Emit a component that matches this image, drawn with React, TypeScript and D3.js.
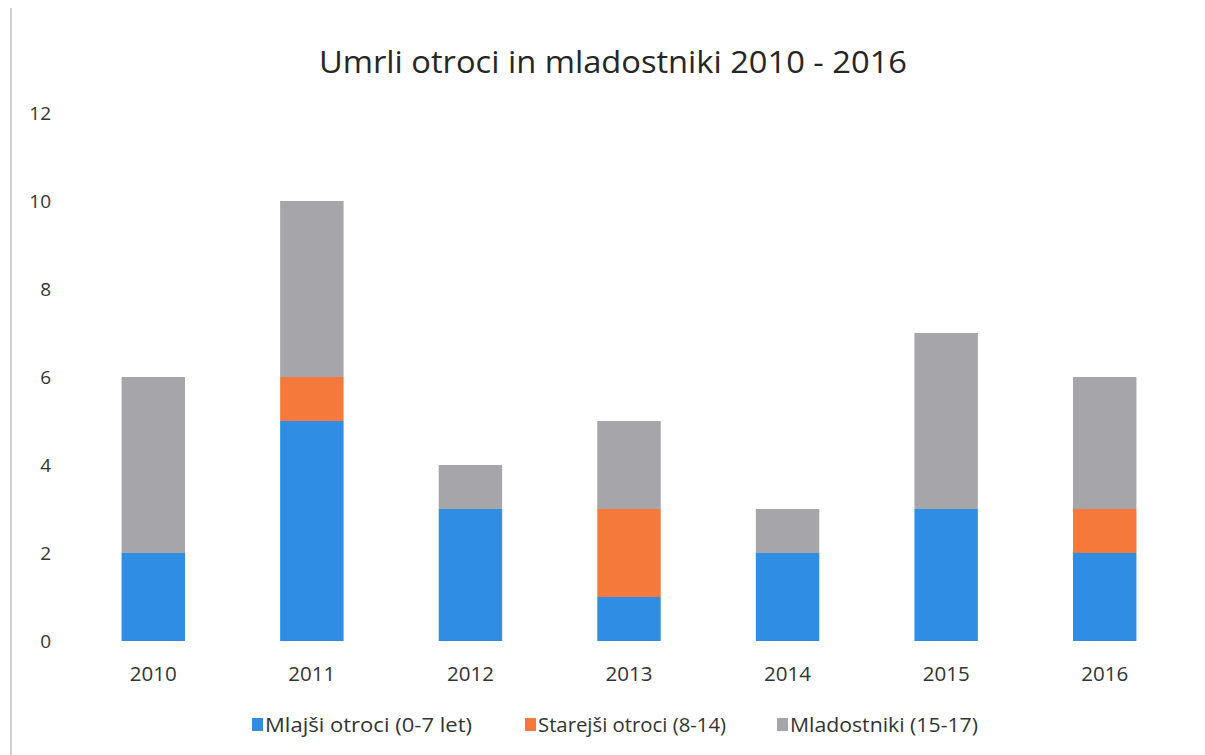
import React from "react";
import * as d3 from "d3";

const years = ["2010", "2011", "2012", "2013", "2014", "2015", "2016"];
const mlajsi = [2, 5, 3, 1, 2, 3, 2];
const starejsi = [0, 1, 0, 2, 0, 0, 1];
const mladostniki = [4, 4, 1, 2, 1, 4, 3];
const seriesNames = ["Mlajši otroci (0-7 let)", "Starejši otroci (8-14)", "Mladostniki (15-17)"];
const seriesColors = ["#2f8de4", "#f4793b", "#a6a6aa"];
const yTicks = [0, 2, 4, 6, 8, 10, 12];
const title = "Umrli otroci in mladostniki 2010 - 2016";

const W = 1205;
const H = 755;
const FONT = "'Open Sans', 'Noto Sans', sans-serif";

export default function App() {
  const x = d3.scaleBand<string>().domain(years).range([74, 1184]).paddingInner(0.6).paddingOuter(0.3);
  const y = d3.scaleLinear().domain([0, 12]).range([641, 113]);

  const rows = years.map((yr, i) => ({ year: yr, s0: mlajsi[i], s1: starejsi[i], s2: mladostniki[i] }));
  const stack = d3.stack<any>().keys(["s0", "s1", "s2"]);
  const layers = stack(rows);

  const legendX = [252, 525, 777];
  const legendW = [207, 188, 188];

  return (
    <div style={{ position: "absolute", left: 0, top: 0 }}>
      <svg width={W} height={H} style={{ display: "block", background: "#fff" }}>
        <line x1={11} x2={11} y1={8} y2={H} stroke="#d0d0d0" strokeWidth={2} />
        <text
          x={613}
          y={73}
          textAnchor="middle"
          fontFamily={FONT}
          fontSize={31}
          fill="#262626"
          textLength={588}
          lengthAdjust="spacingAndGlyphs"
        >
          {title}
        </text>
        {yTicks.map((t) => (
          <text key={t} x={51} y={y(t) + 7} textAnchor="end" fontFamily={FONT} fontSize={19} fill="#333">
            {t}
          </text>
        ))}
        {layers.map((layer, li) => (
          <g key={li} fill={seriesColors[li]}>
            {layer.map((d, i) =>
              d[1] - d[0] > 0 ? (
                <rect
                  key={i}
                  x={x(years[i])}
                  y={y(d[1])}
                  width={x.bandwidth()}
                  height={y(d[0]) - y(d[1])}
                />
              ) : null
            )}
          </g>
        ))}
        {years.map((yr) => (
          <text
            key={yr}
            x={(x(yr) as number) + x.bandwidth() / 2}
            y={681}
            textAnchor="middle"
            fontFamily={FONT}
            fontSize={20}
            fill="#333"
            textLength={47}
            lengthAdjust="spacingAndGlyphs"
          >
            {yr}
          </text>
        ))}
        {seriesNames.map((n, i) => (
          <g key={n}>
            <rect x={legendX[i]} y={718} width={11} height={13} fill={seriesColors[i]} />
            <text
              x={legendX[i] + 13}
              y={732}
              fontFamily={FONT}
              fontSize={20}
              fill="#333"
              textLength={legendW[i]}
              lengthAdjust="spacingAndGlyphs"
            >
              {n}
            </text>
          </g>
        ))}
      </svg>
    </div>
  );
}
